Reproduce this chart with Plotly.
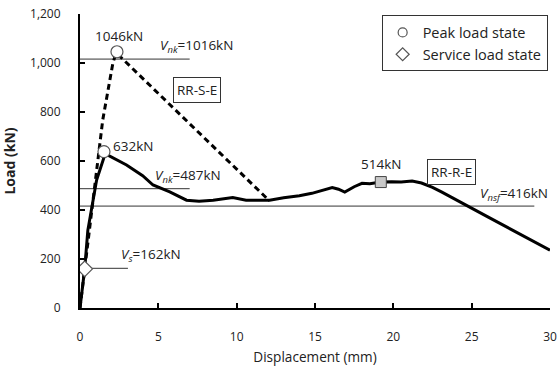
import plotly.graph_objects as go

# RR-R-E (solid) curve
rre_x = [0, 0.3, 0.5, 1.06, 1.6, 1.75, 2.97, 4.0, 4.66, 5.73, 6.8, 7.6, 8.5, 9.3, 9.75, 10.6, 11.5, 12.1,
         13.0, 14.0, 14.8, 15.5, 16.1, 16.5, 16.9, 17.5, 18.0, 18.5, 19.2, 19.9, 20.5, 21.2, 21.8, 22.5, 23.1, 26.0, 30.0]
rre_y = [0, 160, 317, 522, 628, 625, 584, 540, 502, 474, 440, 436, 440, 447, 451, 440, 440, 440,
         450, 458, 468, 480, 492, 485, 473, 495, 509, 507, 514, 515, 514, 518, 510, 492, 473, 373, 236]

# RR-S-E (dashed) curve
rse_x = [0, 1.0, 1.45, 2.1, 2.3, 2.5, 12.1]
rse_y = [0, 520, 767, 1000, 1040, 1030, 437]

# markers
peak_x = [2.36, 1.53]
peak_y = [1046, 638]
serv_x = [0.3]
serv_y = [160]
sq_x = [19.2]
sq_y = [514]

# reference lines: (x0, x1, y)
ref_x0 = [0, 0, 0, 0.3]
ref_x1 = [7.0, 7.0, 29.0, 3.06]
ref_y = [1016, 487, 416, 162]

x_ticks = [0, 5, 10, 15, 20, 25, 30]
y_ticks = [0, 200, 400, 600, 800, 1000, 1200]
y_tick_text = ["0", "200", "400", "600", "800", "1,000", "1,200"]

FONT = "Open Sans"
TXT = "#222222"

fig = go.Figure()
for x0, x1, y in zip(ref_x0, ref_x1, ref_y):
    fig.add_trace(go.Scatter(x=[x0, x1], y=[y, y], mode="lines",
                             line=dict(color="#333333", width=1), showlegend=False, hoverinfo="skip"))

fig.add_trace(go.Scatter(x=rse_x, y=rse_y, mode="lines",
                         line=dict(color="black", width=3, dash="6px,4px"), showlegend=False))
fig.add_trace(go.Scatter(x=rre_x, y=rre_y, mode="lines",
                         line=dict(color="black", width=3), showlegend=False))

fig.add_trace(go.Scatter(x=peak_x, y=peak_y, mode="markers",
                         marker=dict(symbol="circle", size=12, color="white", line=dict(color="#555555", width=1.2)),
                         showlegend=False))
fig.add_trace(go.Scatter(x=serv_x, y=serv_y, mode="markers",
                         marker=dict(symbol="diamond", size=12, color="white", line=dict(color="#555555", width=1.2)),
                         showlegend=False))
fig.add_trace(go.Scatter(x=sq_x, y=sq_y, mode="markers",
                         marker=dict(symbol="square", size=11, color="#c8c8c8", line=dict(color="#444444", width=1)),
                         showlegend=False))

# legend entries (smaller symbols as in the reference legend)
fig.add_trace(go.Scatter(x=[None], y=[None], mode="markers", name="Peak load state",
                         marker=dict(symbol="circle", size=9, color="white", line=dict(color="#555555", width=1.2))))
fig.add_trace(go.Scatter(x=[None], y=[None], mode="markers", name="Service load state",
                         marker=dict(symbol="diamond", size=10, color="white", line=dict(color="#555555", width=1.2))))

ann_font = dict(family=FONT, size=13.5, color=TXT)
anns = [
    dict(x=2.5, y=1046, text="1046kN", xanchor="center", yanchor="bottom", yshift=5),
    dict(x=5.0, y=1016, text="<i>V</i><sub><i>nk</i></sub>=1016kN", xanchor="left", yanchor="bottom", yshift=1),
    dict(x=1.95, y=632, text="632kN", xanchor="left", yanchor="bottom", yshift=-4),
    dict(x=4.65, y=487, text="<i>V</i><sub><i>nk</i></sub>=487kN", xanchor="left", yanchor="bottom", yshift=1),
    dict(x=2.5, y=162, text="<i>V</i><sub><i>s</i></sub>=162kN", xanchor="left", yanchor="bottom", yshift=1),
    dict(x=19.2, y=514, text="514kN", xanchor="center", yanchor="bottom", yshift=7),
    dict(x=30.0, y=416, text="<i>V</i><sub><i>nsf</i></sub>=416kN", xanchor="right", yanchor="bottom", yshift=0),
    dict(x=7.47, y=890, text="RR-S-E", xanchor="center", yanchor="middle", bordercolor="#333333", borderwidth=1, borderpad=3),
    dict(x=23.7, y=555, text="RR-R-E", xanchor="center", yanchor="middle", bordercolor="#333333", borderwidth=1, borderpad=3),
]
for a in anns:
    a.update(xref="x", yref="y", showarrow=False, font=ann_font)
    fig.add_annotation(**a)

fig.update_layout(
    width=557, height=370,
    margin=dict(l=80, r=7, t=14, b=62),
    plot_bgcolor="white", paper_bgcolor="white",
    font=dict(family=FONT, size=13, color=TXT),
    legend=dict(x=0.995, y=0.995, xanchor="right", yanchor="top",
                bordercolor="#333333", borderwidth=1, bgcolor="white",
                font=dict(family=FONT, size=14.5, color=TXT),
                itemsizing="trace", tracegroupgap=0, itemwidth=30),
    xaxis=dict(range=[0, 30], tickvals=x_ticks, ticks="inside", ticklen=5, tickwidth=2, tickcolor="black",
               showline=True, linecolor="black", linewidth=2, showgrid=False, zeroline=False,
               ticklabelstandoff=17, ticklabeloverflow="allow", automargin=False,
               title=dict(text="Displacement (mm)", font=dict(family=FONT, size=13.6), standoff=8),
               tickfont=dict(family=FONT, size=12, color=TXT)),
    yaxis=dict(range=[0, 1200], tickvals=y_ticks, ticktext=y_tick_text, ticks="inside", ticklen=5, tickwidth=2,
               tickcolor="black", showline=True, linecolor="black", linewidth=2, showgrid=False, zeroline=False,
               ticklabelstandoff=15, automargin=False,
               title=dict(text="<b>Load (kN)</b>", font=dict(family=FONT, size=14), standoff=12),
               tickfont=dict(family=FONT, size=12, color=TXT)),
)

fig.write_html("out.html")
